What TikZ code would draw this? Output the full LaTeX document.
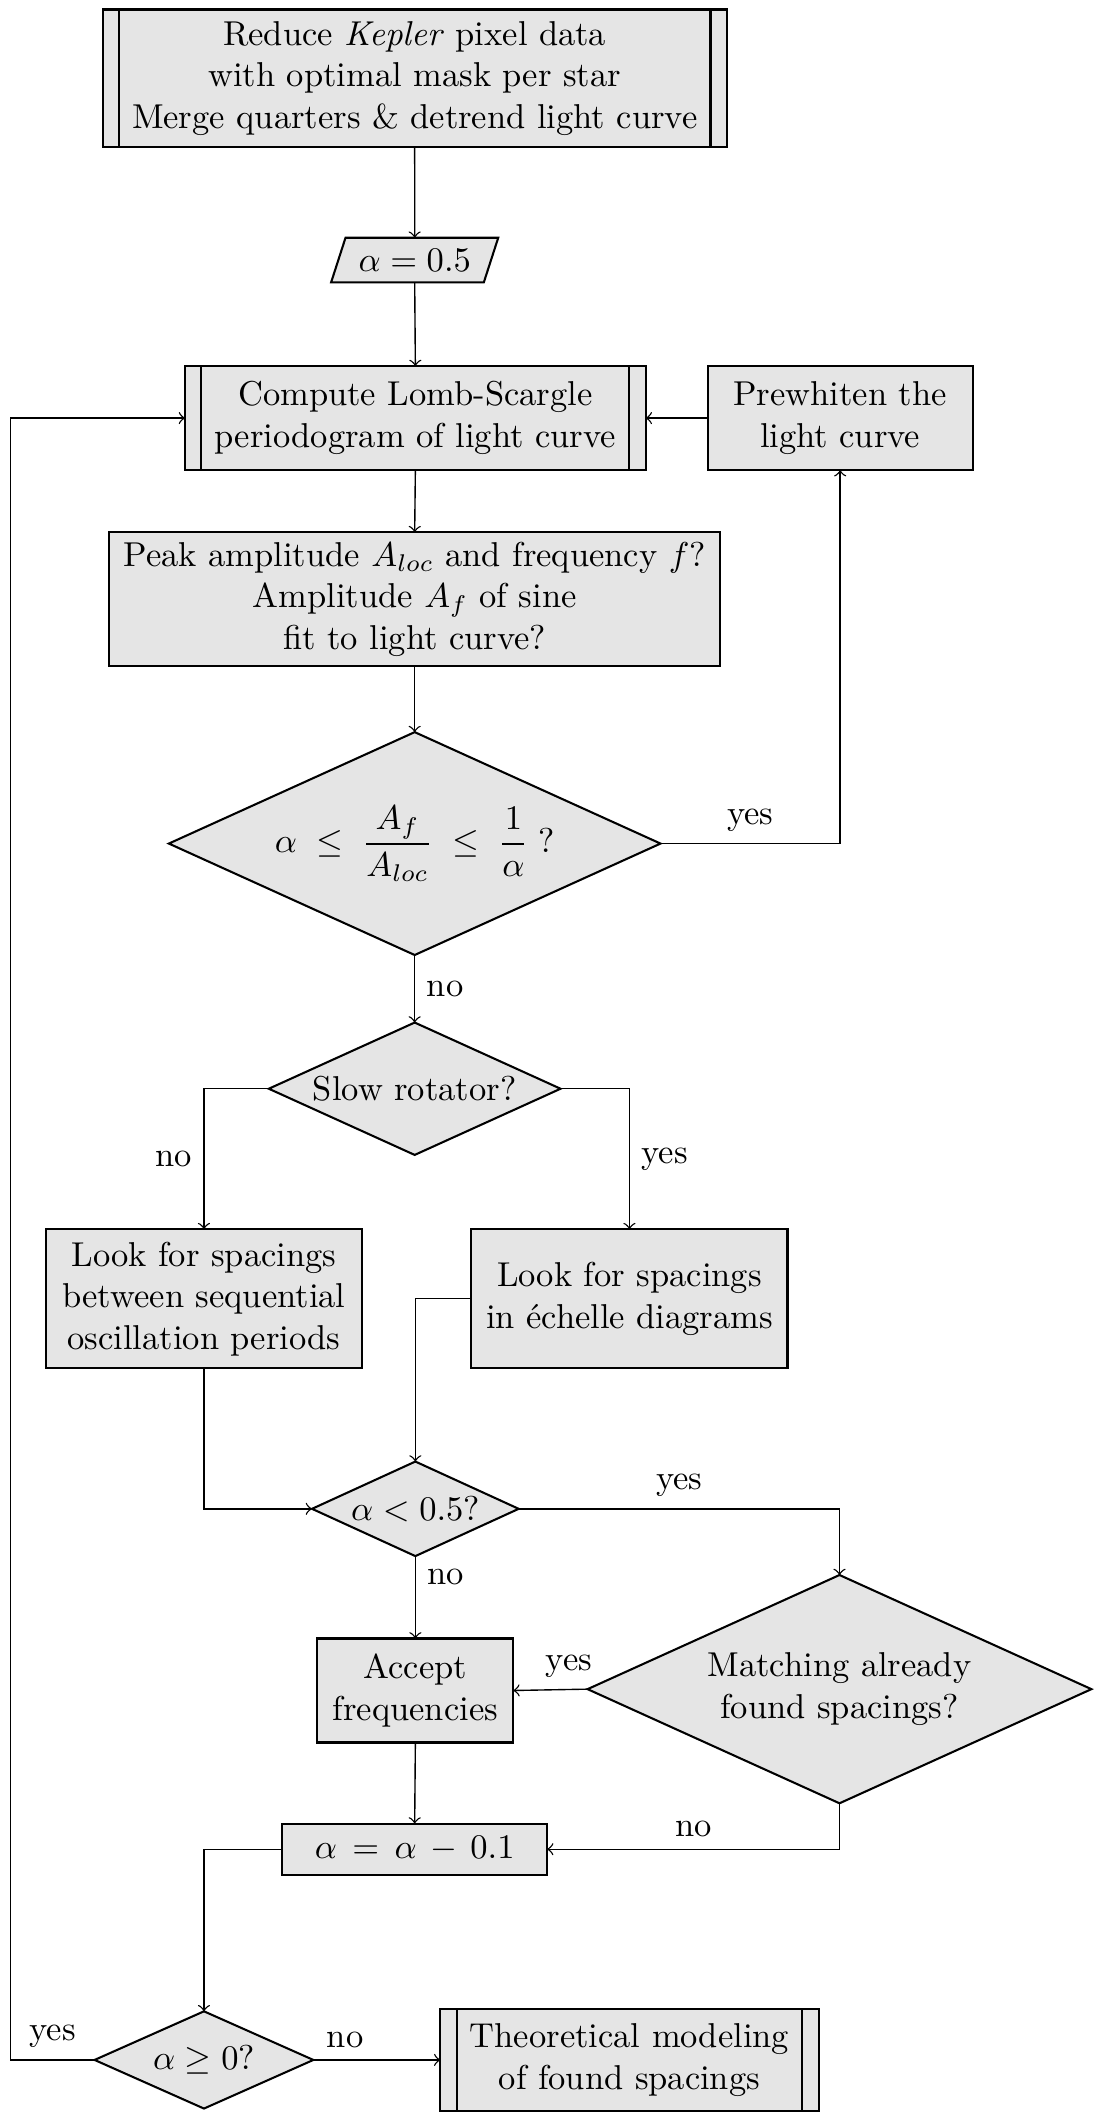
\documentclass[tikz,border=0pt]{standalone}
\usepackage{amsmath}
\usepackage{fontspec}
\usetikzlibrary{shapes.geometric,calc}
\newcommand{\myu}{0.3914pt}
\begin{document}
\begin{tikzpicture}[x=0.3914pt,y=-0.3914pt,
  base/.style={draw, fill=gray!20, line width=0.6pt, align=center, outer sep=0pt},
  box/.style={base, rectangle, inner sep=2pt},
  dia/.style={base, diamond, inner sep=0pt},
  io/.style={base, trapezium, trapezium left angle=70, trapezium right angle=110, trapezium stretches=true, inner sep=2pt},
  conn/.style={->, line width=0.4pt},
  lbl/.style={inner sep=3.33pt}
]
\useasboundingbox (0,0) rectangle (813.6,1568);

\node[box, minimum width=462*\myu, minimum height=102*\myu] (reduce) at (307,58)
  {Reduce \emph{Kepler} pixel data\\with optimal mask per star\\Merge quarters \& detrend light curve};
\node[io, minimum width=124*\myu, minimum height=33*\myu] (alpha) at (307,192.5) {$\alpha=0.5$};
\node[box, minimum width=341*\myu, minimum height=77*\myu] (compute) at (307.5,309.5)
  {Compute Lomb-Scargle\\periodogram of light curve};
\node[box, minimum width=196*\myu, minimum height=77*\myu] (prewhiten) at (622,309.5)
  {Prewhiten the\\light curve};
\node[box, minimum width=452*\myu, minimum height=99*\myu] (peak) at (307,443.5)
  {Peak amplitude $A_{loc}$ and frequency $f$?\\Amplitude $A_f$ of sine\\fit to light curve?};
\node[dia, aspect=2.2, minimum width=364*\myu, minimum height=165*\myu] (d1) at (307,624.5)
  {$\displaystyle\alpha\;\leq\;\frac{A_f}{A_{loc}}\;\leq\;\frac{1}{\alpha}\;?$};
\node[dia, aspect=2.2, minimum width=216*\myu, minimum height=98*\myu] (slow) at (307,806)
  {Slow rotator?};
\node[box, minimum width=234*\myu, minimum height=103*\myu] (lookL) at (151,961.5)
  {Look for spacings\\between sequential\\oscillation periods};
\node[box, minimum width=234*\myu, minimum height=103*\myu] (lookR) at (466,961.5)
  {Look for spacings\\in échelle diagrams};
\node[dia, aspect=2.2, minimum width=153*\myu, minimum height=70*\myu] (d3) at (307.5,1117)
  {$\alpha<0.5$?};
\node[box, minimum width=145*\myu, minimum height=77*\myu] (accept) at (307.5,1251.5)
  {Accept\\frequencies};
\node[dia, aspect=2.2, minimum width=373*\myu, minimum height=169*\myu] (match) at (621.5,1250.5)
  {Matching already\\found spacings?};
\node[box, minimum width=196*\myu, minimum height=38*\myu] (dec) at (307,1369)
  {$\alpha\,=\,\alpha\,-\,0.1$};
\node[dia, aspect=2.2, minimum width=162*\myu, minimum height=72*\myu] (d5) at (151,1525)
  {$\alpha\geq 0$?};
\node[box, minimum width=280*\myu, minimum height=76*\myu] (theory) at (466,1525)
  {Theoretical modeling\\of found spacings};

\foreach \n in {reduce,compute,theory}{
  \draw[line width=0.6pt] ([xshift=4.7pt]\n.north west) -- ([xshift=4.7pt]\n.south west);
  \draw[line width=0.6pt] ([xshift=-4.7pt]\n.north east) -- ([xshift=-4.7pt]\n.south east);
}

\coordinate (loopx) at (8,0);

\draw[conn] (reduce.south) -- (alpha.north);
\draw[conn] (alpha.south) -- (compute.north);
\draw[conn] (prewhiten.west) -- (compute.east);
\draw[conn] (compute.south) -- (peak.north);
\draw[conn] (peak.south) -- (d1.north);
\draw[conn] (d1.east) -| node[lbl, pos=0.25, above] {yes} (prewhiten.south);
\draw[conn] (d1.south) -- node[lbl, right] {no} (slow.north);
\draw[conn] (slow.west) -| node[lbl, pos=0.75, left] {no} (lookL.north);
\draw[conn] (slow.east) -| node[lbl, pos=0.75, right] {yes} (lookR.north);
\draw[conn] (lookL.south) |- (d3.west);
\draw[conn] (lookR.west) -| (d3.north);
\draw[conn] (d3.east) -| node[lbl, pos=0.25, above] {yes} (match.north);
\draw[conn] (d3.south) -- node[lbl, pos=0.25, right] {no} (accept.north);
\draw[conn] (match.west) -- node[lbl, pos=0.25, above] {yes} (accept.east);
\draw[conn] (match.south) |- node[lbl, pos=0.75, above] {no} (dec.east);
\draw[conn] (accept.south) -- (dec.north);
\draw[conn] (dec.west) -| (d5.north);
\draw[conn] (d5.east) -- node[lbl, pos=0.25, above] {no} (theory.west);
\draw[conn] (d5.west) -- node[lbl, above] {yes} (d5.west -| loopx) |- (compute.west);
\end{tikzpicture}
\end{document}
